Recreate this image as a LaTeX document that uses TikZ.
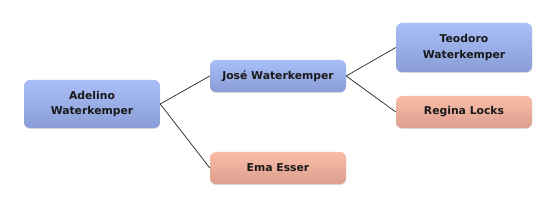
\documentclass[tikz,border=0pt]{standalone}
\usepackage{fontspec}
\setmainfont{DejaVu Sans}
\usetikzlibrary{shadows}
\definecolor{bluetop}{HTML}{A9BFF7}
\definecolor{bluebot}{HTML}{8A9DD6}
\definecolor{saltop}{HTML}{FABDA8}
\definecolor{salbot}{HTML}{DC9F8E}
\tikzset{
  person/.style={rounded corners=6pt, minimum width=136pt, align=center,
    font=\bfseries\fontsize{10.8}{15.5}\selectfont, text=black!90,
    drop shadow={shadow xshift=0pt, shadow yshift=-1pt, opacity=0.25, fill=black!60}},
  male/.style={person, top color=bluetop, bottom color=bluebot},
  female/.style={person, top color=saltop, bottom color=salbot},
  link/.style={draw=black!85, line width=0.7pt}
}
\begin{document}
\begin{tikzpicture}[x=1pt,y=1pt]
\useasboundingbox (0,0) rectangle (556,208);
\fill[white] (0,0) rectangle (556,208);
\node[male, minimum height=48pt] (adelino) at (92,104) {Adelino\\Waterkemper};
\node[male, minimum height=32pt] (jose) at (278,132) {José Waterkemper};
\node[female, minimum height=32pt] (ema) at (278,40) {Ema Esser};
\node[male, minimum height=49pt] (teodoro) at (464,160.5) {Teodoro\\Waterkemper};
\node[female, minimum height=32pt] (regina) at (464,96) {Regina Locks};
\draw[link] (adelino.east) -- (jose.west);
\draw[link] (adelino.east) -- (ema.west);
\draw[link] (jose.east) -- (teodoro.west);
\draw[link] (jose.east) -- (regina.west);
\end{tikzpicture}
\end{document}
